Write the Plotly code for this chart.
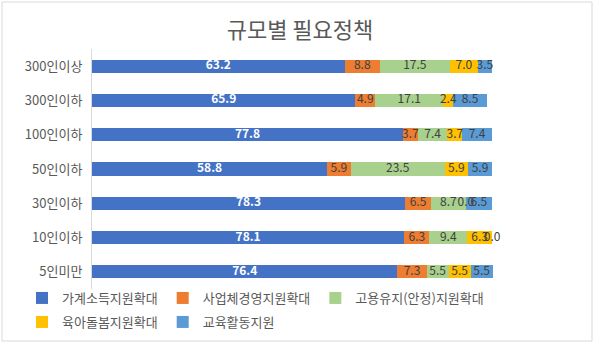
import plotly.graph_objects as go

categories = ["300인이상", "300인이하", "100인이하", "50인이하", "30인이하", "10인이하", "5인미만"]
series_names = ["가계소득지원확대", "사업체경영지원확대", "고용유지(안정)지원확대", "육아돌봄지원확대", "교육활동지원"]
household = [63.2, 65.9, 77.8, 58.8, 78.3, 78.1, 76.4]
business = [8.8, 4.9, 3.7, 5.9, 6.5, 6.3, 7.3]
employment = [17.5, 17.1, 7.4, 23.5, 8.7, 9.4, 5.5]
childcare = [7.0, 2.4, 3.7, 5.9, 0.0, 6.3, 5.5]
education = [3.5, 8.5, 7.4, 5.9, 6.5, 0.0, 5.5]
colors = ["#4472C4", "#ED7D31", "#A9D18E", "#FFC000", "#5B9BD5"]
label_colors = ["#FFFFFF", "#404040", "#404040", "#404040", "#404040"]
legend_rows = ["legend", "legend", "legend", "legend2", "legend2"]

series = [household, business, employment, childcare, education]
FONT = "Noto Sans CJK KR"

fig = go.Figure()
for name, vals, col, lg in zip(series_names, series, colors, legend_rows):
    fig.add_trace(go.Bar(
        y=categories, x=vals, name=name, orientation="h",
        marker=dict(color=col, line=dict(width=0)),
        textposition="none", hoverinfo="x+name", legend=lg,
    ))

# data labels placed at segment midpoints (computed from the data)
cum = [0.0] * len(categories)
for i, (vals, lc) in enumerate(zip(series, label_colors)):
    mids = [c + v / 2 for c, v in zip(cum, vals)]
    fig.add_trace(go.Scatter(
        y=categories, x=mids, mode="text",
        text=[f"{v:.1f}" for v in vals],
        textposition="middle center",
        textfont=dict(family=FONT, size=12, color=lc,
                      weight="bold" if i == 0 else "normal"),
        showlegend=False, hoverinfo="skip", cliponaxis=False,
    ))
    cum = [c + v for c, v in zip(cum, vals)]

W, H = 600, 350
L, R, T, B = 92, 107, 49, 61
pw, ph = W - L - R, H - T - B

def px_x(p):
    return (p - L) / pw

def px_y(p):
    return (H - B - p) / ph

legend_style = dict(orientation="h", x=px_x(22), xanchor="left", yanchor="middle",
                    traceorder="normal", font=dict(family=FONT, size=13, color="#595959"),
                    itemwidth=30, tracegroupgap=0, bgcolor="rgba(0,0,0,0)")

fig.update_layout(
    width=W, height=H,
    margin=dict(l=L, r=R, t=T, b=B, autoexpand=False),
    paper_bgcolor="white", plot_bgcolor="white",
    barmode="stack", bargap=0.62,
    font=dict(family=FONT, color="#595959"),
    title=dict(text="규모별 필요정책", x=0.5, xanchor="center", y=1 - 30 / H, yanchor="middle",
               font=dict(family=FONT, size=22, color="#595959")),
    xaxis=dict(range=[0, 100.3], visible=False, fixedrange=True),
    yaxis=dict(categoryorder="array", categoryarray=categories, autorange="reversed",
               showline=True, linecolor="#D9D9D9", linewidth=1, ticks="",
               tickfont=dict(family=FONT, size=13, color="#595959"), ticklabelstandoff=6,
               showgrid=False, zeroline=False),
    legend=dict(y=px_y(298), **legend_style),
    legend2=dict(y=px_y(322), **legend_style),
    showlegend=True,
    shapes=[dict(type="rect", xref="paper", yref="paper",
                 x0=px_x(2), x1=px_x(592), y0=px_y(341), y1=px_y(2),
                 line=dict(color="#D9D9D9", width=1), fillcolor="rgba(0,0,0,0)", layer="below")],
)

fig.write_html("out.html")
